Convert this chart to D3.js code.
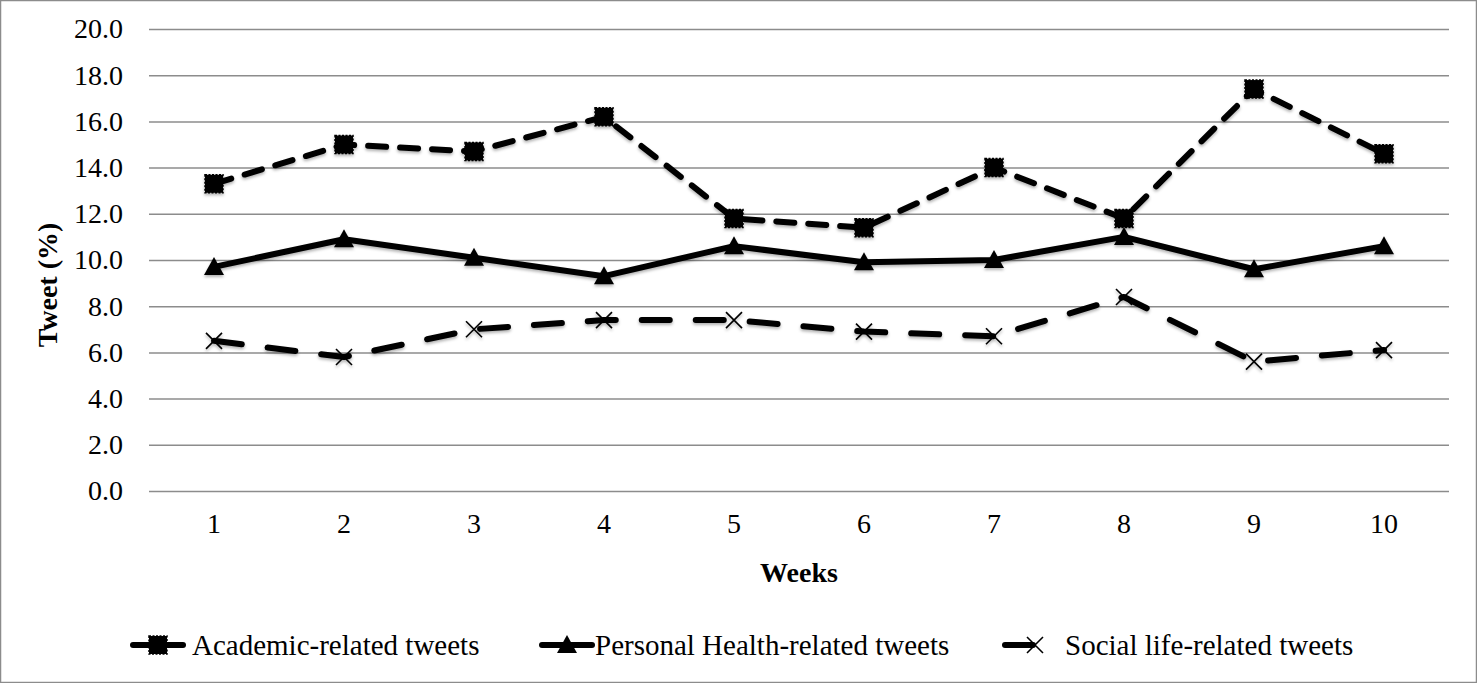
<!DOCTYPE html>
<html>
<head>
<meta charset="utf-8">
<script src="https://cdn.jsdelivr.net/npm/d3@7"></script>
<style>
  body { margin: 0; background: #fff; }
  svg { display: block; font-family: "Liberation Serif", "Times New Roman", serif; }
</style>
</head>
<body>
<div id="chart"></div>
<script>
// data
const weeks = [1, 2, 3, 4, 5, 6, 7, 8, 9, 10];
const academic = [13.3, 15.0, 14.7, 16.2, 11.8, 11.4, 14.0, 11.8, 17.4, 14.6];
const health = [9.7, 10.9, 10.1, 9.3, 10.6, 9.9, 10.0, 11.0, 9.6, 10.6];
const social = [6.5, 5.8, 7.0, 7.4, 7.4, 6.9, 6.7, 8.4, 5.6, 6.1];
const yTicks = [0, 2, 4, 6, 8, 10, 12, 14, 16, 18, 20];
const seriesNames = ["Academic-related tweets", "Personal Health-related tweets", "Social life-related tweets"];

const width = 1477;
const height = 683;
const margin = { top: 29, right: 28, bottom: 192, left: 149 };

const svg = d3.select("#chart")
    .append("svg")
    .attr("width", width)
    .attr("height", height)
    .attr("viewBox", [0, 0, width, height]);

// outer frame
svg.append("rect")
    .attr("x", 0.5).attr("y", 0.5)
    .attr("width", width - 1).attr("height", height - 1)
    .attr("fill", "#fff")
    .attr("stroke", "#8c8c8c")
    .attr("stroke-width", 1.5);

const x = d3.scaleBand()
    .domain(weeks)
    .range([margin.left, width - margin.right]);

const y = d3.scaleLinear()
    .domain([0, 20])
    .range([height - margin.bottom, margin.top]);

const cx = d => x(d) + x.bandwidth() / 2;

// y axis with gridlines
svg.append("g")
    .attr("transform", `translate(${margin.left}, 0)`)
    .call(d3.axisLeft(y).tickValues(yTicks).tickFormat(d3.format(".1f"))
        .tickSize(-(width - margin.left - margin.right)).tickPadding(26))
    .call(g => g.select(".domain").remove())
    .call(g => g.selectAll(".tick line").attr("stroke", "#8c8c8c").attr("stroke-width", 1.5))
    .call(g => g.selectAll(".tick text")
        .attr("font-family", "Liberation Serif")
        .attr("font-size", 28)
        .attr("fill", "#000"));

// x axis labels only
svg.append("g")
    .attr("transform", `translate(0, ${height - margin.bottom})`)
    .call(d3.axisBottom(x).tickSize(0).tickPadding(22))
    .call(g => g.select(".domain").remove())
    .call(g => g.selectAll(".tick text")
        .attr("font-family", "Liberation Serif")
        .attr("font-size", 28)
        .attr("fill", "#000"));

// axis titles
svg.append("text")
    .attr("x", (margin.left + width - margin.right) / 2)
    .attr("y", 582)
    .attr("text-anchor", "middle")
    .attr("font-size", 28)
    .attr("font-weight", "bold")
    .text("Weeks");

svg.append("text")
    .attr("transform", `translate(57, ${(margin.top + height - margin.bottom) / 2 + 25}) rotate(-90)`)
    .attr("text-anchor", "middle")
    .attr("font-size", 28)
    .attr("font-weight", "bold")
    .text("Tweet (%)");

// soft shadow like the original
const defs = svg.append("defs");
const f = defs.append("filter").attr("id", "shadow").attr("x", "-20%").attr("y", "-20%").attr("width", "140%").attr("height", "140%");
f.append("feDropShadow").attr("dx", 0).attr("dy", 2).attr("stdDeviation", 1.5).attr("flood-color", "#000").attr("flood-opacity", 0.3);

const line = d3.line().x((d, i) => cx(weeks[i])).y(d => y(d));

const series = [
    { name: seriesNames[0], values: academic, dash: "18,14", marker: "square" },
    { name: seriesNames[1], values: health, dash: null, marker: "triangle" },
    { name: seriesNames[2], values: social, dash: "28,26", marker: "cross" }
];

function drawMarker(g, type, px, py) {
    if (type === "square") {
        g.append("rect")
            .attr("x", px - 9).attr("y", py - 9)
            .attr("width", 18).attr("height", 18)
            .attr("fill", "#000")
            .attr("stroke", "#000").attr("stroke-width", 1.5)
            .attr("stroke-dasharray", "2,1.5");
    } else if (type === "triangle") {
        g.append("path")
            .attr("d", `M${px},${py - 10}L${px + 10},${py + 8}L${px - 10},${py + 8}Z`)
            .attr("fill", "#000");
    } else {
        g.append("path")
            .attr("d", `M${px - 8},${py - 8}L${px + 8},${py + 8}M${px - 8},${py + 8}L${px + 8},${py - 8}`)
            .attr("stroke", "#000").attr("stroke-width", 1.6).attr("fill", "none");
    }
}

const plot = svg.append("g").attr("filter", "url(#shadow)");

series.forEach(s => {
    const g = plot.append("g");
    g.append("path")
        .datum(s.values)
        .attr("d", line)
        .attr("fill", "none")
        .attr("stroke", "#000")
        .attr("stroke-width", 6)
        .attr("stroke-linecap", "round")
        .attr("stroke-linejoin", "round")
        .attr("stroke-dasharray", s.dash);
    s.values.forEach((v, i) => drawMarker(g, s.marker, cx(weeks[i]), y(v)));
});

// legend
const legendY = 645;
const legendItems = [
    { lx: 133, tx: 192 },
    { lx: 542, tx: 595 },
    { lx: 1005, tx: 1065 }
];
series.forEach((s, i) => {
    const it = legendItems[i];
    const g = svg.append("g");
    const len = i === 2 ? 28 : 50;
    g.append("line")
        .attr("x1", it.lx).attr("x2", it.lx + len)
        .attr("y1", legendY).attr("y2", legendY)
        .attr("stroke", "#000").attr("stroke-width", 6)
        .attr("stroke-linecap", "round");
    drawMarker(g, s.marker, i === 2 ? it.lx + 30 : it.lx + 25, legendY);
    g.append("text")
        .attr("x", it.tx).attr("y", legendY)
        .attr("dy", "0.35em")
        .attr("font-size", 29)
        .text(s.name);
});
</script>
</body>
</html>
